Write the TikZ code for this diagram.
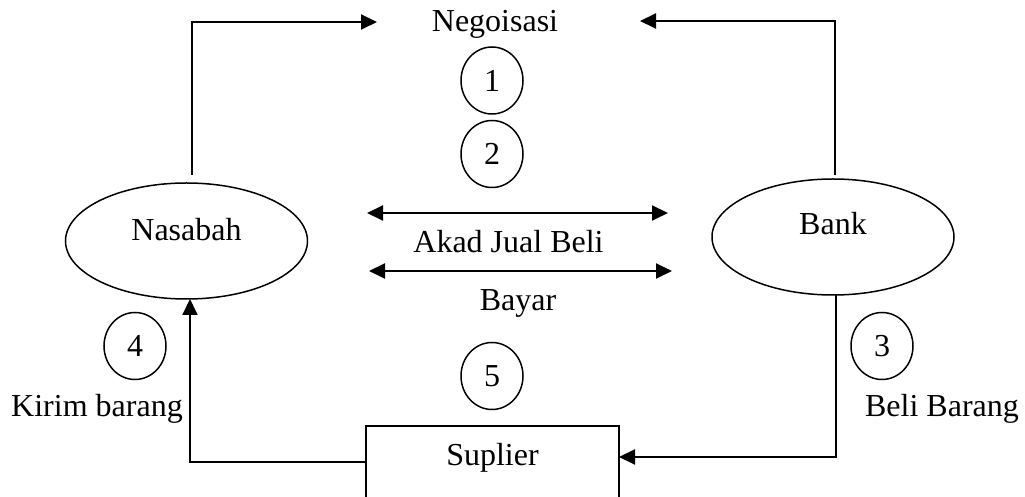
\documentclass[tikz,border=0pt]{standalone}
\usepackage{fontspec}
\setmainfont{Liberation Serif}
\usetikzlibrary{arrows.meta,shapes.geometric}
\tikzset{
  txt/.style={font=\fontsize{16}{19}\selectfont, inner sep=0pt, outer sep=0pt},
  party/.style={txt, draw, ellipse, line width=0.75pt, minimum width=121pt, minimum height=58pt},
  stepnum/.style={txt, draw, ellipse, line width=0.75pt, minimum width=31pt, minimum height=33.5pt},
  firm/.style={txt, draw, rectangle, line width=0.9pt, minimum width=126.5pt, minimum height=40pt, text depth=12pt},
  flow/.style={line width=1pt, -{Triangle[length=8pt,width=7.5pt]}},
  twoway/.style={line width=1pt, {Triangle[length=8pt,width=7.5pt]}-{Triangle[length=8pt,width=7.5pt]}}
}
\begin{document}
\begin{tikzpicture}[x=0.5pt,y=-0.5pt]
\useasboundingbox (0,0) rectangle (1025,497);
\clip (0,0) rectangle (1025,497);

% parties
\node[party, text depth=12pt] (nas) at (186.5,241) {Nasabah};
\node[party, text depth=14pt] (bank) at (833,237) {Bank};
\node[firm, anchor=north] (sup) at (492.5,426) {Suplier};

% step numbers
\node[stepnum] (n1) at (492,80.5) {1};
\node[stepnum] (n2) at (492,154) {2};
\node[stepnum] (n3) at (882,346) {3};
\node[stepnum] (n4) at (135,346) {4};
\node[stepnum] (n5) at (492,376) {5};

% labels
\node[txt, anchor=base] (neg) at (495,32) {Negoisasi};
\node[txt, anchor=base] (akad) at (508.5,253) {Akad Jual Beli};
\node[txt, anchor=base] (bayar) at (518,311) {Bayar};
\node[txt, anchor=base] (kirim) at (97,417) {Kirim barang};
\node[txt, anchor=base] (beli) at (942,417) {Beli Barang};

% free ends of the connectors
\coordinate (nasUp) at (192,175);
\coordinate (negL) at (377,22);
\coordinate (bankUp) at (835,175);
\coordinate (negR) at (640,21);
\coordinate (akadL) at (367,213);
\coordinate (akadR) at (668,213);
\coordinate (bayarL) at (369,271);
\coordinate (bayarR) at (672,271);
\coordinate (supOut) at (366,462);
\coordinate (supIn) at (619,457);

% negotiation
\draw[flow] (nasUp) |- (negL);
\draw[flow] (bankUp) |- (negR);

% sale contract and payment
\draw[twoway] (akadL) -- (akadR);
\draw[twoway] (bayarL) -- (bayarR);

% purchase and delivery of goods
\draw[flow] ([xshift=1.5pt]bank.south) |- (supIn);
\draw[flow] (supOut) -| ([xshift=1.75pt]nas.south);
\end{tikzpicture}
\end{document}
